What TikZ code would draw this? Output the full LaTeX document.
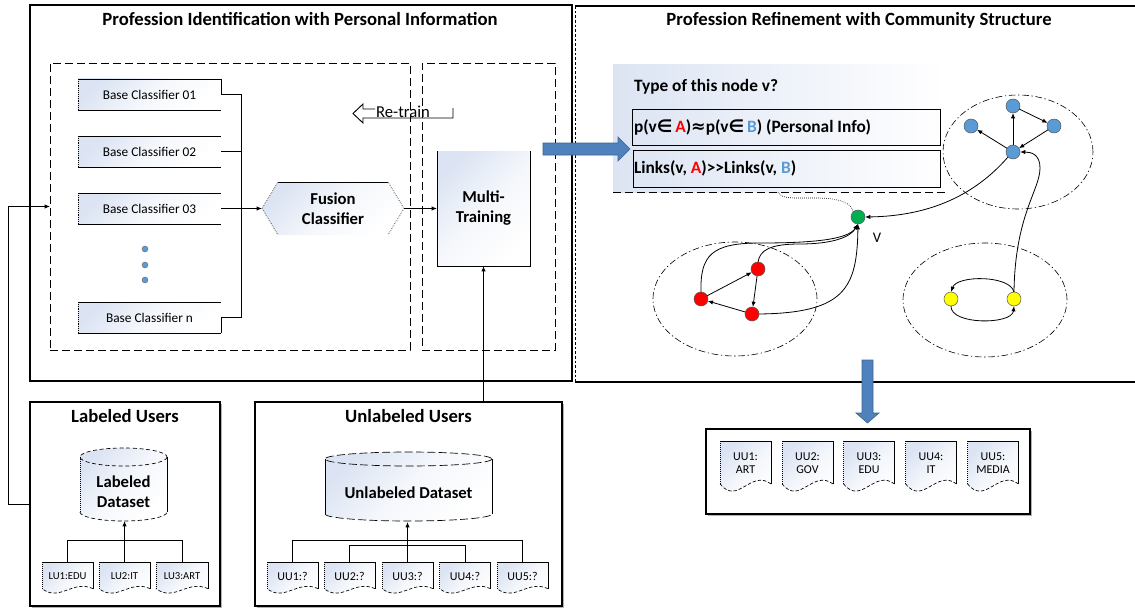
\documentclass[tikz,border=0pt]{standalone}
\usepackage{fontspec}
\setmainfont{Carlito}
\newfontfamily\symf{DejaVu Sans}
\usetikzlibrary{arrows.meta,calc,shapes.geometric,shadows}
\definecolor{gradblue}{HTML}{DCE4F3}
\definecolor{arrowblue}{HTML}{4F81BD}
\definecolor{arrowborder}{HTML}{3A6597}
\definecolor{nodeblue}{HTML}{5B9BD5}
\definecolor{vred}{HTML}{FF0000}
\definecolor{vgreen}{HTML}{00B050}
\definecolor{vyellow}{HTML}{FFFF00}
\definecolor{txtblue}{HTML}{5B9BD5}
\newcommand\docshape[3]{%
 \path[grad] (#1.north west) -- (#1.north east) -- ($(#1.north east)+(0,{0.74*#3})$) .. controls +({-0.4*#2},{-0.26*#3}) and +({0.35*#2},{0.38*#3}) .. ($(#1.north west)+(0,{0.74*#3})$) -- cycle;
 \draw[shp] ($(#1.north east)+(0,{0.74*#3})$) -- (#1.north east) -- (#1.north west);
 \draw[shp,densely dotted] (#1.north west) -- ($(#1.north west)+(0,{0.74*#3})$);
 \draw[shp,dash pattern=on 2.5pt off 1.5pt] ($(#1.north east)+(0,{0.74*#3})$) .. controls +({-0.4*#2},{-0.26*#3}) and +({0.35*#2},{0.38*#3}) .. ($(#1.north west)+(0,{0.74*#3})$);
}
\begin{document}
\begin{tikzpicture}[x=0.75pt,y=-0.75pt,
  every node/.style={inner sep=0pt, outer sep=0pt},
  panel/.style={draw=black, line width=0.9pt, fill=white},
  shad/.style={drop shadow={shadow xshift=1.2pt, shadow yshift=-1.2pt, fill=black, opacity=0.3}},
  ttl/.style={font=\bfseries\fontsize{14}{16}\selectfont},
  dbox/.style={draw=black, line width=0.7pt, dash pattern=on 6pt off 3pt},
  grad/.style={top color=gradblue, bottom color=white, middle color=white!70!gradblue, shading angle=45},
  bcbox/.style={grad, minimum width=107.25pt, minimum height=23.25pt, font=\fontsize{10}{12}\selectfont},
  shp/.style={line width=0.5pt},
  ln/.style={line width=0.6pt},
  arr/.style={ln, -{Latex[length=4pt,width=3.2pt]}},
  vert/.style={circle, draw=black!65, line width=0.4pt, minimum size=10.5pt},
  commu/.style={ellipse, draw=black, line width=0.45pt, dash pattern=on 5pt off 2pt on 1pt off 2pt},
  docbox/.style={minimum width=38.25pt, minimum height=27pt},
  rdocbox/.style={minimum width=38.25pt, minimum height=43.5pt},
  bigarrow/.style={fill=arrowblue, draw=arrowborder, line width=0.5pt},
  bold125/.style={font=\bfseries\fontsize{12.5}{15}\selectfont, align=center},
  ptxt/.style={anchor=west, font=\bfseries\fontsize{13}{15}\selectfont},
  dot/.style={circle, fill=nodeblue, draw=black!60, line width=0.3pt, minimum size=4.5pt}
]
\useasboundingbox (0,0) rectangle (1135,610);

% ---------------- left panel ----------------
\node[panel, minimum width=406.5pt, minimum height=282pt] (pl) at (301,193) {};
\node[ttl] (plt) at (300,19) {Profession Identification with Personal Information};

% re-train arrow
\draw[line width=0.7pt] (375,109) -- (363,109) -- (363,104) -- (353,113.5) -- (363,123) -- (363,118) -- (453,118) -- (453,108);
\node[font=\fontsize{12.5}{15}\selectfont] (retrain) at (403,112) {Re-train};

\node[dbox, minimum width=270pt, minimum height=215.25pt] (dbl) at (230,206.5) {};
\node[dbox, minimum width=99.75pt, minimum height=215.25pt] (dbr) at (488.5,206.5) {};

\foreach \n/\y/\t in {bc1/94.5/01, bc2/151.5/02, bc3/208.5/03, bcn/317.5/n}{
  \node[bcbox] (\n) at (149.5,\y) {Base Classifier \t};
  \draw[shp] (\n.north west) -- (\n.north east);
  \draw[shp] (\n.south west) -- (\n.south east);
  \draw[line width=0.4pt, densely dotted] (\n.north west) -- (\n.south west);
}
\node[dot] (d1) at (145,249) {};
\node[dot] (d2) at (145,265) {};
\node[dot] (d3) at (145,280) {};

\coordinate (bk1) at (241,94.5);
\coordinate (bkn) at (241,317.5);
\draw[ln] (bc1.north east) |- (bk1) -- (bkn) -| (bcn.south east);
\draw[ln] (bc2.east) -- (bc2.east -| bk1);

% fusion classifier
\path[grad] (262,208.5) -- (278,182) -- (388,182) -- (404,208.5) -- (388,235) -- (278,235) -- cycle;
\draw[shp] (278,182) -- (388,182);
\draw[line width=0.45pt, densely dotted] (278,182) -- (262,208.5) -- (278,235);
\draw[line width=0.45pt, densely dotted] (388,182) -- (404,208.5) -- (388,235);
\node[bold125, minimum width=106.5pt, minimum height=39.75pt] (fus) at (333,208.5) {Fusion\\Classifier};

% multi-training
\node[grad, bold125, minimum width=69.75pt, minimum height=86.25pt] (mt) at (483.5,208.5) {Multi-\\Training};
\draw[shp] (mt.north west) -- (mt.south west) -- (mt.south east) -- (mt.north east);

\draw[arr] (bc3.east) -- (fus.west);
\draw[arr] (fus.east) -- (mt.west);

% ---------------- bottom panels ----------------
\node[panel, shad, minimum width=142.5pt, minimum height=153pt] (lu) at (125,504) {};
\node[ttl] (lut) at (125,416) {Labeled Users};
\node[panel, shad, minimum width=230.25pt, minimum height=153pt] (uu) at (408.5,504) {};
\node[ttl] (uut) at (408.5,416) {Unlabeled Users};

\draw[arr] (lu.west) -- ++(-22,0) |- (dbl.west);
\draw[arr] (mt.south |- uu.north) -- (mt.south);

% labeled cylinder
\path[grad] (80,457) -- (80,512) arc[start angle=180, end angle=0, x radius=43.5, y radius=9] -- (167,457) arc[start angle=360, end angle=180, x radius=43.5, y radius=9] -- cycle;
\draw[shp, dash pattern=on 3pt off 2pt] (123.5,457) ellipse[x radius=43.5, y radius=9];
\draw[shp, densely dotted] (80,457) -- (80,512);
\draw[shp] (167,457) -- (167,512);
\draw[shp, dash pattern=on 3pt off 2pt] (80,512) arc[start angle=180, end angle=0, x radius=43.5, y radius=9];
\node[minimum width=65.25pt, minimum height=54.75pt] (ld) at (123.5,484.5) {};
\node[bold125] (ldt) at (123.5,492) {Labeled\\Dataset};

% unlabeled cylinder
\path[grad] (325,459) -- (325,514) arc[start angle=180, end angle=0, x radius=83.5, y radius=7] -- (492,459) arc[start angle=360, end angle=180, x radius=83.5, y radius=7] -- cycle;
\draw[shp, dash pattern=on 6pt off 2.5pt] (408.5,459) ellipse[x radius=83.5, y radius=7];
\draw[shp] (325,459) -- (325,514);
\draw[shp] (492,459) -- (492,514);
\draw[shp, dash pattern=on 6pt off 2.5pt] (325,514) arc[start angle=180, end angle=0, x radius=83.5, y radius=7];
\node[minimum width=125.25pt, minimum height=52.5pt] (ud) at (408.5,487) {};
\node[bold125] (udt) at (408.5,493) {Unlabeled Dataset};

% labeled docs
\node[docbox] (lu1) at (67.5,580) {};
\node[docbox] (lu2) at (124.5,580) {};
\node[docbox, minimum width=39pt] (lu3) at (182,580) {};
\docshape{lu1}{51}{36}
\docshape{lu2}{51}{36}
\docshape{lu3}{52}{36}
\node[font=\fontsize{8}{9}\selectfont] (lu1t) at (67.5,576) {LU1:EDU};
\node[font=\fontsize{8}{9}\selectfont] (lu2t) at (124.5,576) {LU2:IT};
\node[font=\fontsize{8}{9}\selectfont] (lu3t) at (182,576) {LU3:ART};
\coordinate (ltj) at (124.5,540);
\draw[ln] (lu1.north) -- (lu1.north |- ltj) -- (lu3.north |- ltj) -- (lu3.north);
\draw[arr] (lu2.north) -- (lu2.north |- ld.south);

% unlabeled docs
\foreach \n/\x/\t in {uu1/292.5/UU1, uu2/349.5/UU2, uu3/407.5/UU3, uu4/465/UU4, uu5/522.5/UU5}{
  \node[docbox] (\n) at (\x,580) {};
  \docshape{\n}{51}{36}
  \node[font=\fontsize{9}{10}\selectfont] (\n t) at (\x,576) {\t:?};
}
\coordinate (ut1) at (407.5,540);
\coordinate (ut2) at (407.5,545);
\draw[ln] (uu1.north) -- (uu1.north |- ut1) -- (uu5.north |- ut1) -- (uu5.north);
\draw[ln] (uu2.north) -- (uu2.north |- ut2) -- (uu4.north |- ut2) -- (uu4.north);
\draw[arr] (uu3.north) -- (uu3.north |- ud.south);

% ---------------- right panel ----------------
\node[minimum width=420pt, minimum height=282pt] (pr) at (855,194) {};
\draw[line width=0.9pt] (pr.north west) -- (pr.north east);
\draw[line width=0.9pt] (pr.south west) -- (pr.south east);
\draw[line width=0.5pt, dash pattern=on 2pt off 1.5pt] (pr.north west) -- (pr.south west);
\node[ttl] (prt) at (859,20) {Profession Refinement with Community Structure};

\path[left color=gradblue, right color=white] (613,65) rectangle (945,192);
\draw[ln, dash pattern=on 6pt off 3pt] (613,192) -- (947,192);

% communities
\node[commu, minimum width=112.5pt, minimum height=85.5pt] (cb) at (1018,152) {};
\node[commu, minimum width=123pt, minimum height=85.5pt] (cr) at (735,299) {};
\node[commu, minimum width=123pt, minimum height=85.5pt] (cy) at (985,300) {};

\node[ptxt, font=\bfseries\fontsize{13}{15}\selectfont] (tq) at (634,87) {Type of this node v?};
\node[draw, shp, minimum width=231pt, minimum height=27pt] (p1) at (786,127) {};
\node[draw, shp, minimum width=230.25pt, minimum height=27.75pt] (p2) at (786.5,168.5) {};
\node[ptxt] (p1t) at (634,127) {p(v{\symf∈}\,{\color{vred}A}){\symf≈}p(v{\symf∈}\,{\color{txtblue}B}) (Personal Info)};
\node[ptxt] (p2t) at (634,168.5) {Links(v, {\color{vred}A})>{}>Links(v, {\color{txtblue}B})};

% vertices
\node[vert, fill=vgreen] (v) at (858,217) {};
\node[font=\fontsize{11}{12}\selectfont] (vlab) at (877,238) {V};
\node[vert, fill=nodeblue] (bt) at (1013,106) {};
\node[vert, fill=nodeblue] (bl) at (971,126) {};
\node[vert, fill=nodeblue] (br) at (1054,126) {};
\node[vert, fill=nodeblue] (bc) at (1013,152) {};
\node[vert, fill=vred] (rt) at (758,269) {};
\node[vert, fill=vred] (rl) at (701,299) {};
\node[vert, fill=vred] (rb) at (752,314) {};
\node[vert, fill=vyellow] (yl) at (951,299) {};
\node[vert, fill=vyellow] (yr) at (1014,299) {};

% edges
\draw[arr] (bc) -- (bt);
\draw[arr] (bc) -- (bl);
\draw[arr] (bt) -- (br);
\draw[arr] (br) -- (bc);
\draw[arr] (rl) -- (rt);
\draw[arr] (rt) -- (rb);
\draw[arr] (rb) -- (rl);
\draw[arr] (bc.south west) .. controls (975,195) and (930,216) .. (v.east);
\draw[arr] (yr.north) .. controls (1015,215) and (1040,190) .. (1040,168) .. controls (1040,155) and (1032,152) .. (bc.east);
\draw[arr] (yr.north) .. controls (1010,275) and (957,275) .. (yl.north);
\draw[arr] (yl.south) .. controls (950,325) and (1012,325) .. (yr.south);
\draw[arr] (rl.north) .. controls (700,255) and (712,243) .. (760,243) .. controls (810,243) and (848,240) .. (v.south);
\draw[arr] (rt.north) .. controls (760,250) and (770,244) .. (800,244) .. controls (830,244) and (850,238) .. (v.south);
\draw[arr] (rb.east) .. controls (845,313) and (857,288) .. (v.south);
\coordinate (dotst) at (778,192);
\draw[line width=0.5pt, densely dotted] (dotst) .. controls (782,199) and (790,198) .. (815,198) .. controls (840,198) and (852,203) .. (v.north west);

% big arrows
\filldraw[bigarrow] (543,143) -- (618,143) -- (618,137) -- (630,149) -- (618,161) -- (618,155) -- (543,155) -- cycle;
\filldraw[bigarrow] (862,360) -- (873,360) -- (873,413) -- (879,413) -- (867.5,423) -- (856,413) -- (862,413) -- cycle;

% results
\node[panel, shad, minimum width=243pt, minimum height=63.75pt] (res) at (868,471.5) {};
\foreach \n/\x/\a/\b in {r1/745.5/UU1/ART, r2/807.5/UU2/GOV, r3/869/UU3/EDU, r4/931/UU4/IT, r5/993/UU5/MEDIA}{
  \node[rdocbox] (\n) at (\x,470) {};
  \docshape{\n}{51}{58}
  \node[font=\fontsize{9}{9.75}\selectfont, align=center] (\n t) at (\x,463.5) {\a:\\\b};
}
\end{tikzpicture}
\end{document}
